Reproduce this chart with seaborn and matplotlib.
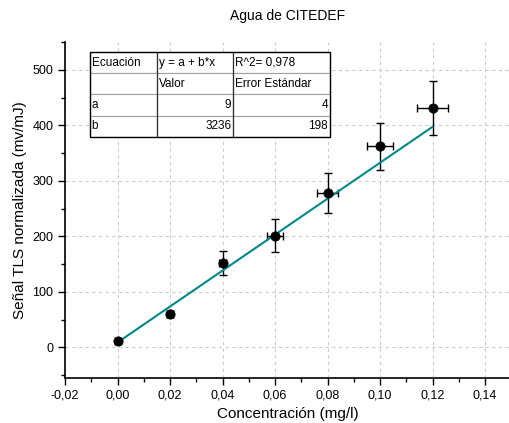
import numpy as np
import pandas as pd
import matplotlib
matplotlib.use("Agg")
import matplotlib.pyplot as plt
import seaborn as sns
from matplotlib.ticker import MultipleLocator, FuncFormatter

conc = [0.00, 0.02, 0.04, 0.06, 0.08, 0.10, 0.12]
signal = [12, 60, 152, 201, 278, 362, 431]
y_err = [4, 6, 22, 30, 36, 42, 48]
x_err = [0.0008, 0.001, 0.0015, 0.003, 0.004, 0.005, 0.006]
fit_a = 9
fit_b = 3236
fit_range = [0.0, 0.12]
table_rows = [["Ecuación", "y = a + b*x", "R^2= 0,978"],
              ["", "Valor", "Error Estándar"],
              ["a", "9", "4"],
              ["b", "3236", "198"]]

sns.set_style("white")
plt.rcParams['font.family'] = ['Liberation Sans', 'DejaVu Sans']
plt.rcParams['text.color'] = 'black'
plt.rcParams['axes.labelcolor'] = 'black'
plt.rcParams['xtick.color'] = 'black'
plt.rcParams['ytick.color'] = 'black'

fig = plt.figure(figsize=(5.1, 4.23), dpi=100)
ax = fig.add_axes([65/510, 45/423, 1 - 65/510, (378-42)/423])

df = pd.DataFrame({"x": conc, "y": signal})
fx = np.array(fit_range)
fit_df = pd.DataFrame({"x": fx, "y": fit_a + fit_b * fx})

ax.errorbar(conc, signal, yerr=y_err, xerr=x_err, fmt='none', ecolor='black',
            elinewidth=1, capsize=3, capthick=1, zorder=3)
sns.lineplot(data=fit_df, x="x", y="y", color="#00878a", linewidth=1.5, ax=ax, zorder=4)
sns.scatterplot(data=df, x="x", y="y", color="black", s=45, edgecolor="black", ax=ax, zorder=5)

ax.set_xlim(-0.02, 0.1495)
ax.set_ylim(-55, 550)
ax.xaxis.set_major_locator(MultipleLocator(0.02))
ax.xaxis.set_minor_locator(MultipleLocator(0.01))
ax.yaxis.set_major_locator(MultipleLocator(100))
ax.yaxis.set_minor_locator(MultipleLocator(50))
ax.xaxis.set_major_formatter(FuncFormatter(lambda v, p: f"{v:.2f}".replace(".", ",").replace("-0,00", "0,00")))
ax.tick_params(which='major', direction='out', length=5, width=1, labelsize=9, bottom=True, left=True,
               color='black', labelcolor='black')
ax.tick_params(which='minor', direction='out', length=3, width=1, bottom=True, left=True, color='black')
ax.grid(True, which='major', linestyle=(0, (3, 3)), color='#cccccc', linewidth=0.8)
ax.set_axisbelow(True)
for s in ['top', 'right']:
    ax.spines[s].set_visible(False)
for s in ['left', 'bottom']:
    ax.spines[s].set_color('black')
    ax.spines[s].set_linewidth(1.2)

ax.set_xlabel("Concentración (mg/l)", fontsize=11, color='black')
ax.set_ylabel("Señal TLS normalizada (mv/mJ)", fontsize=11, color='black')
ax.set_title("Agua de CITEDEF", fontsize=10, pad=16, color='black')

x0, x1 = (90-65)/445, (330-65)/445
y0, y1 = (378-137)/336, (378-52)/336
widths = [67/240, 76/240, 97/240]
tbl = ax.table(cellText=table_rows, colWidths=widths,
               bbox=[x0, y0, x1 - x0, y1 - y0], zorder=10)
tbl.auto_set_font_size(False)
for (r, c), cell in tbl.get_celld().items():
    cell.set_edgecolor('#a0a0a0')
    cell.set_linewidth(0.8)
    cell.set_facecolor('white')
    cell.get_text().set_fontsize(8.5)
    cell.get_text().set_color('black')
    if r >= 2 and c >= 1:
        cell._loc = 'right'
        cell.get_text().set_ha('right')
        cell.PAD = 0.02
    else:
        cell._loc = 'left'
        cell.get_text().set_ha('left')
        cell.PAD = 0.025
cum = x0
for w in widths[:-1]:
    cum += w * (x1 - x0)
    ax.plot([cum, cum], [y0, y1], transform=ax.transAxes, color='#303030', linewidth=0.9, zorder=11)
ax.add_patch(plt.Rectangle((x0, y0), x1 - x0, y1 - y0, transform=ax.transAxes,
                           fill=False, edgecolor='black', linewidth=1, zorder=12))

fig.savefig("out.png", dpi=100)
